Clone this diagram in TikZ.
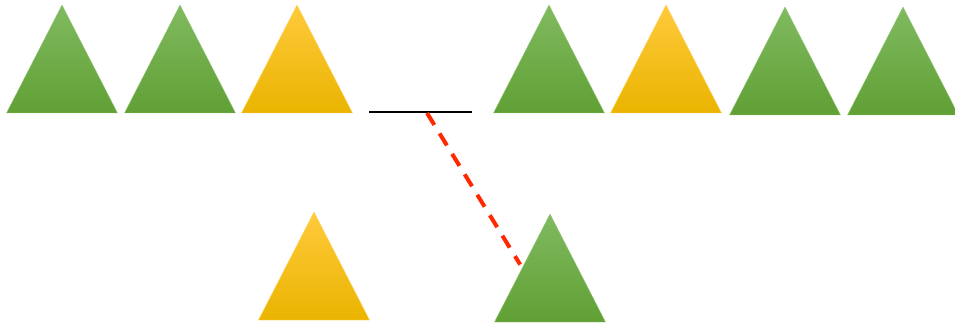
\documentclass[tikz,border=0pt]{standalone}
\usetikzlibrary{shapes.geometric}
\definecolor{grtop}{RGB}{128,186,96}
\definecolor{grmid}{RGB}{110,176,66}
\definecolor{grbot}{RGB}{96,160,52}
\definecolor{yetop}{RGB}{255,202,60}
\definecolor{yemid}{RGB}{255,198,0}
\definecolor{yebot}{RGB}{234,180,0}
\definecolor{dashred}{RGB}{255,40,0}
\tikzset{
  tri/.style={isosceles triangle, isosceles triangle stretches, shape border rotate=90,
    minimum width=111pt, minimum height=108pt, inner sep=0pt, outer sep=0pt, anchor=lower side},
  greentri/.style={tri, top color=grtop, middle color=grmid, bottom color=grbot, draw=grtop!80!white, line width=0.4pt},
  yellowtri/.style={tri, top color=yetop, middle color=yemid, bottom color=yebot, draw=yetop!80!white, line width=0.4pt}
}
\begin{document}
\begin{tikzpicture}[x=1pt, y=-1pt]
    \useasboundingbox (0,0) rectangle (955,326);
    % top row
    \node[greentri] (t1) at (62,113) {};
    \node[greentri] (t2) at (180,113) {};
    \node[yellowtri] (t3) at (297,113) {};
    \node[greentri] (t4) at (549,113) {};
    \node[yellowtri] (t5) at (666,113) {};
    \node[greentri] (t6) at (785,115) {};
    \node[greentri] (t7) at (903,115) {};
    % bottom row
    \node[yellowtri] (b1) at (314,320) {};
    \node[greentri] (b2) at (550,322) {};

    \coordinate (barL) at (369,112);
    \coordinate (barR) at (472,112);
    \coordinate (barP) at (427,113);
    \draw[line width=2.8pt] (barL) -- (barR);
    \draw[dashred, line width=4pt, dash pattern=on 14pt off 10pt, shorten >=4pt] (barP) -- (b2.left side);
\end{tikzpicture}
\end{document}
